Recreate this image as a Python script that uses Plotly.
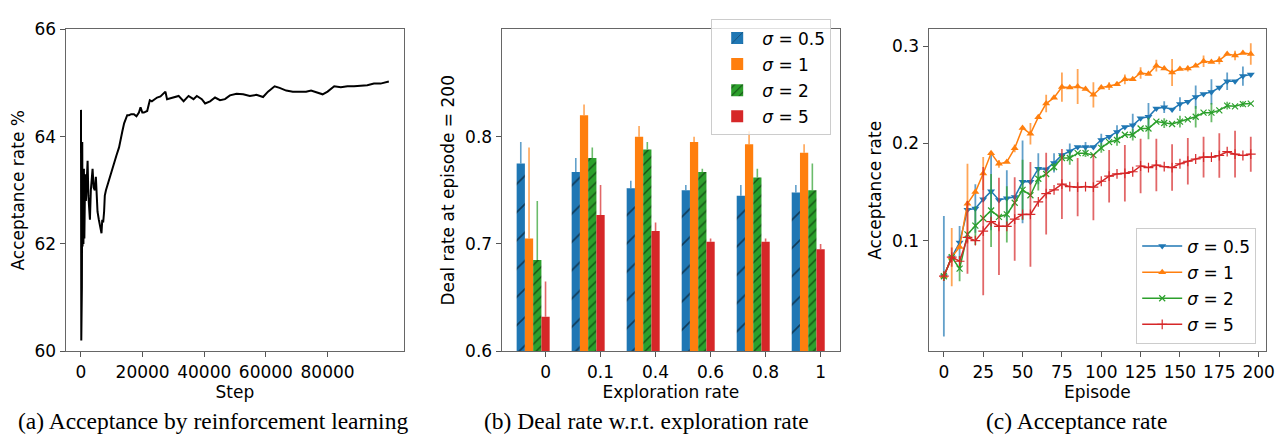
import plotly.graph_objects as go

# ---------------- Panel (a) data ----------------
steps_a = [0, 100, 200, 300, 420, 520, 650, 800, 950, 1100, 1350, 1600, 1900, 2150, 2400,
           2650, 2900, 3200, 3500, 3760, 4100, 4500, 4830, 5100, 5370, 5800, 6230, 6660,
           6900, 7200, 7500, 7730, 8100, 8590, 9600, 10740, 11500, 12350, 13000, 13425,
           14000, 14500, 15000, 15570, 16300, 17180, 18000, 18800, 19330, 19900, 20400,
           21480, 22340, 23000, 24000, 24700, 25800, 26850, 27400, 27924, 29000, 30072,
           31683, 33294, 34905, 36516, 37590, 39201, 40275, 41886, 43497, 45108, 46719,
           48330, 50478, 52626, 54774, 56922, 59070, 60681, 62829, 64440, 66588, 68736,
           70884, 73032, 74643, 76254, 78402, 80013, 82161, 84309, 86457, 88605, 90753,
           92901, 95049, 97197, 99882]
accept_a = [64.5, 60.2, 64.5, 61.2, 63.9, 61.95, 63.2, 62.0, 63.4, 62.1, 63.3, 62.8, 63.35,
            63.55, 62.9, 62.5, 62.45, 63.0, 63.3, 63.4, 63.05, 63.0, 63.25, 62.8, 62.6,
            62.45, 62.3, 62.2, 62.45, 62.4, 62.6, 62.9, 63.0, 63.1, 63.3, 63.5, 63.65,
            63.8, 63.95, 64.1, 64.25, 64.35, 64.4, 64.4, 64.42, 64.42, 64.38, 64.45,
            64.55, 64.45, 64.45, 64.48, 64.68, 64.66, 64.7, 64.73, 64.75, 64.8, 64.84,
            64.70, 64.72, 64.73, 64.76, 64.66, 64.76, 64.70, 64.76, 64.70, 64.62, 64.66,
            64.73, 64.68, 64.70, 64.77, 64.80, 64.79, 64.76, 64.78, 64.74, 64.84, 64.94,
            64.91, 64.86, 64.84, 64.84, 64.84, 64.86, 64.83, 64.79, 64.84, 64.94, 64.92,
            64.94, 64.94, 64.95, 64.96, 64.99, 64.99, 65.03]

# ---------------- Panel (b) data ----------------
explore_cats = ["0", "0.1", "0.4", "0.6", "0.8", "1"]
sigma_labels = ["0.5", "1", "2", "5"]
deal_s05 = [0.775, 0.767, 0.752, 0.750, 0.745, 0.748]
deal_s1 = [0.705, 0.820, 0.800, 0.795, 0.793, 0.785]
deal_s2 = [0.685, 0.780, 0.788, 0.767, 0.762, 0.750]
deal_s5 = [0.632, 0.727, 0.712, 0.702, 0.702, 0.695]
deal_err_s05 = [0.020, 0.013, 0.007, 0.005, 0.010, 0.007]
deal_err_s1 = [0.085, 0.010, 0.010, 0.005, 0.012, 0.008]
deal_err_s2 = [0.055, 0.010, 0.007, 0.003, 0.008, 0.025]
deal_err_s5 = [0.033, 0.028, 0.008, 0.003, 0.003, 0.005]

# ---------------- Panel (c) data ----------------
episodes = list(range(0, 200, 5))
acc_s05 = [0.0634, 0.083, 0.098, 0.1317, 0.133, 0.1425, 0.1507, 0.1418, 0.1435, 0.1448,
           0.1605, 0.1605, 0.174, 0.1735, 0.180, 0.188, 0.192, 0.1964, 0.1964, 0.1964,
           0.2036, 0.207, 0.2118, 0.217, 0.2186, 0.2258, 0.2275, 0.236, 0.2373, 0.235,
           0.2405, 0.243, 0.2477, 0.251, 0.253, 0.2575, 0.264, 0.264, 0.2693, 0.271]
acc_s1 = [0.0634, 0.083, 0.0935, 0.138, 0.150, 0.169, 0.190, 0.179, 0.181, 0.195,
          0.216, 0.210, 0.227, 0.241, 0.247, 0.258, 0.2575, 0.2585, 0.256, 0.250,
          0.2575, 0.259, 0.261, 0.266, 0.266, 0.2725, 0.2715, 0.280, 0.277, 0.273,
          0.2765, 0.277, 0.280, 0.2846, 0.2837, 0.2856, 0.292, 0.2905, 0.293, 0.292]
acc_s2 = [0.0634, 0.083, 0.0712, 0.1065, 0.1154, 0.123, 0.131, 0.1245, 0.127, 0.139,
          0.1523, 0.1467, 0.1637, 0.1686, 0.1758, 0.185, 0.185, 0.190, 0.190, 0.188,
          0.1954, 0.2013, 0.2036, 0.209, 0.209, 0.2154, 0.2154, 0.2225, 0.221, 0.220,
          0.2225, 0.2248, 0.2275, 0.2317, 0.2317, 0.234, 0.2389, 0.2382, 0.2405, 0.241]
acc_s5 = [0.0634, 0.083, 0.0788, 0.1033, 0.100, 0.1098, 0.1196, 0.1147, 0.1147, 0.1222,
          0.127, 0.127, 0.1399, 0.1484, 0.1523, 0.1582, 0.1556, 0.155, 0.1556, 0.155,
          0.1611, 0.1663, 0.1686, 0.1693, 0.1709, 0.1768, 0.1752, 0.1778, 0.1761, 0.1752,
          0.1791, 0.1817, 0.184, 0.186, 0.186, 0.1876, 0.1915, 0.189, 0.1876, 0.189]
err_s05 = [0.062, 0, 0.017, 0, 0.025, 0, 0.040, 0, 0.029, 0, 0.0425, 0, 0.016, 0, 0.010, 0,
           0.008, 0, 0.005, 0, 0.0065, 0, 0.007, 0, 0.012, 0, 0.014, 0, 0.006, 0, 0.007, 0,
           0.012, 0, 0.013, 0, 0.009, 0, 0.010, 0]
err_s1 = [0, 0.030, 0, 0.041, 0, 0.017, 0, 0.004, 0, 0.004, 0, 0.011, 0, 0.009, 0, 0.015,
          0, 0.018, 0, 0.013, 0, 0.004, 0, 0.005, 0, 0.006, 0, 0.006, 0, 0.014, 0, 0.003,
          0, 0.006, 0, 0.004, 0, 0.005, 0, 0.011]
err_s2 = [0.005, 0, 0.013, 0, 0.020, 0, 0.0375, 0, 0.029, 0, 0.031, 0, 0.012, 0, 0.004, 0,
          0.007, 0, 0.004, 0, 0.005, 0, 0.006, 0, 0.006, 0, 0.011, 0, 0.005, 0, 0.006, 0,
          0.011, 0, 0.010, 0, 0.004, 0, 0.003, 0]
err_s5 = [0, 0.010, 0, 0.0375, 0, 0.066, 0, 0.050, 0, 0.043, 0, 0.054, 0, 0.042, 0, 0.036,
          0, 0.030, 0, 0.034, 0, 0.027, 0, 0.029, 0, 0.028, 0, 0.027, 0, 0.024, 0, 0.024,
          0, 0.021, 0, 0.023, 0, 0.024, 0, 0.018]

# ---------------- Style ----------------
W, H = 1286, 440
FONT = "DejaVu Sans"
FS = 17
COLORS = ["#1f77b4", "#ff7f0e", "#2ca02c", "#d62728"]
LIGHT = ["rgba(31,119,180,0.7)", "rgba(255,127,14,0.7)", "rgba(44,160,44,0.7)", "rgba(214,39,40,0.7)"]


def xd(a, b):
    return [a / W, b / W]


ydom = [(H - 349) / H, (H - 12) / H]

fig = go.Figure()

# Panel (a)
fig.add_trace(go.Scatter(x=steps_a, y=accept_a, mode="lines", line=dict(color="black", width=2),
                         showlegend=False, xaxis="x", yaxis="y"))

# Panel (b)
deal_vals = [deal_s05, deal_s1, deal_s2, deal_s5]
deal_errs = [deal_err_s05, deal_err_s1, deal_err_s2, deal_err_s5]
patterns = [dict(shape="/", size=20, solidity=0.08, fgcolor="black"),
            None,
            dict(shape="/", size=7, solidity=0.2, fgcolor="black"),
            None]
bw = 0.15
for k in range(4):
    marker = dict(color=COLORS[k], line=dict(width=0))
    if patterns[k] is not None:
        marker["pattern"] = patterns[k]
    fig.add_trace(go.Bar(
        x=explore_cats, y=deal_vals[k], width=bw, offset=-0.525 + k * bw,
        marker=marker,
        error_y=dict(type="data", symmetric=False, array=deal_errs[k],
                     arrayminus=[0] * len(deal_errs[k]), color=LIGHT[k], thickness=1.6, width=0),
        name="<i>σ</i> = " + sigma_labels[k], legend="legend", legendgroup="b" + str(k),
        xaxis="x2", yaxis="y2"))

# Panel (c)
acc_vals = [acc_s05, acc_s1, acc_s2, acc_s5]
acc_errs = [err_s05, err_s1, err_s2, err_s5]
symbols = ["triangle-down", "triangle-up", "x-thin", "cross-thin"]
msizes = [7, 7, 6, 7]
for k in range(4):
    thin = symbols[k].endswith("thin")
    fig.add_trace(go.Scatter(
        x=episodes, y=acc_vals[k], mode="lines+markers",
        line=dict(color=COLORS[k], width=1.5),
        marker=dict(symbol=symbols[k], size=msizes[k], color=COLORS[k],
                    line=dict(color=COLORS[k], width=1.2 if thin else 0)),
        error_y=dict(type="data", array=acc_errs[k], color=LIGHT[k], thickness=1.8, width=0),
        name="<i>σ</i> = " + sigma_labels[k], legend="legend2", legendgroup="c" + str(k),
        xaxis="x3", yaxis="y3"))

axis_common = dict(showline=True, linecolor="#666", linewidth=1, mirror=True, ticks="outside",
                   ticklen=5, tickcolor="#555", showgrid=False, zeroline=False,
                   tickfont=dict(family=FONT, size=FS, color="black"),
                   title_font=dict(family=FONT, size=FS, color="black"))

fig.update_layout(
    width=W, height=H, margin=dict(l=0, r=0, t=0, b=0),
    paper_bgcolor="white", plot_bgcolor="white",
    font=dict(family=FONT, size=FS, color="black"),
    barmode="overlay",
    xaxis=dict(domain=xd(58, 399), anchor="y", range=[-4990, 104870], tickformat="d",
               tickvals=[0, 20000, 40000, 60000, 80000], title=dict(text="Step", standoff=4), **axis_common),
    yaxis=dict(domain=ydom, anchor="x", range=[60, 66], tickvals=[60, 62, 64, 66],
               title=dict(text="Acceptance rate %", standoff=6), **axis_common),
    xaxis2=dict(domain=xd(497, 838), anchor="y2", type="category", range=[-0.80, 5.355],
                title=dict(text="Exploration rate", standoff=4), **axis_common),
    yaxis2=dict(domain=ydom, anchor="x2", range=[0.6, 0.9], tickvals=[0.6, 0.7, 0.8],
                ticktext=["0.6", "0.7", "0.8"],
                title=dict(text="Deal rate at episode = 200", standoff=6), **axis_common),
    xaxis3=dict(domain=xd(927, 1267), anchor="y3", range=[-9.75, 204.75],
                tickvals=[0, 25, 50, 75, 100, 125, 150, 175, 200],
                title=dict(text="Episode", standoff=4), **axis_common),
    yaxis3=dict(domain=ydom, anchor="x3", range=[-0.0137, 0.3173], tickvals=[0.1, 0.2, 0.3],
                ticktext=["0.1", "0.2", "0.3"],
                title=dict(text="Acceptance rate", standoff=6), **axis_common),
    legend=dict(x=829 / W, y=(H - 123) / H, xanchor="right", yanchor="bottom",
                bgcolor="rgba(255,255,255,0.8)", bordercolor="#cccccc", borderwidth=1,
                font=dict(family=FONT, size=FS), tracegroupgap=1, itemwidth=40),
    legend2=dict(x=1257 / W, y=(H - 341) / H, xanchor="right", yanchor="bottom",
                 bgcolor="rgba(255,255,255,0.8)", bordercolor="#cccccc", borderwidth=1,
                 font=dict(family=FONT, size=FS), tracegroupgap=1, itemwidth=40),
)

captions = [(8, "(a) Acceptance by reinforcement learning"),
            (477, "(b) Deal rate w.r.t. exploration rate"),
            (983, "(c) Acceptance rate")]
for xpx, txt in captions:
    fig.add_annotation(x=xpx / W, y=(H - 422) / H, xref="paper", yref="paper", text=txt,
                       showarrow=False, xanchor="left", yanchor="middle",
                       font=dict(family="Liberation Serif", size=23.5, color="black"))

fig.write_html("out.html")
